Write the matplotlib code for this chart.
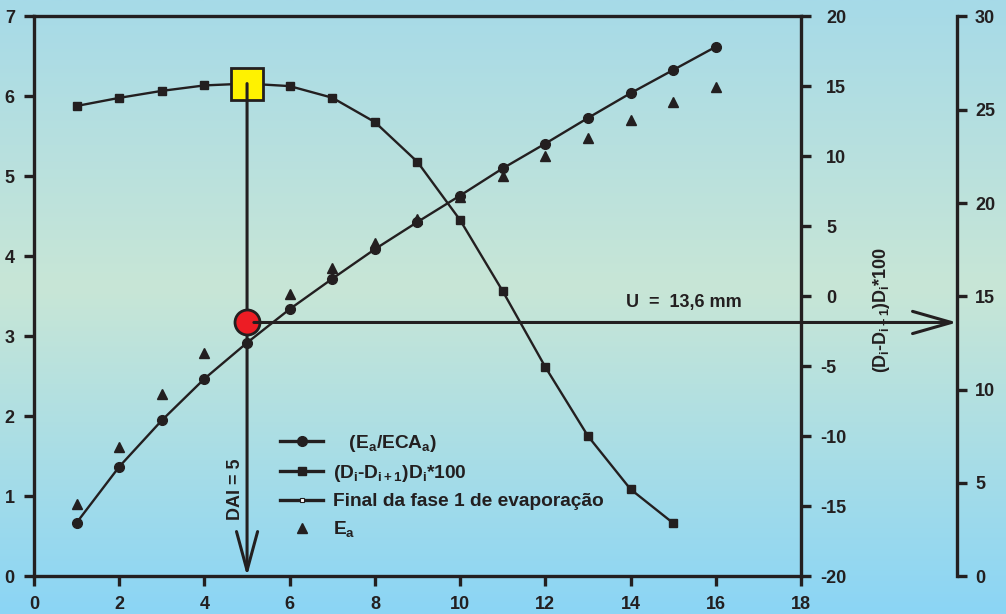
import matplotlib
matplotlib.use('Agg')
import matplotlib.pyplot as plt
import numpy as np
from matplotlib.colors import LinearSegmentedColormap
from matplotlib.lines import Line2D
from matplotlib.transforms import ScaledTranslation

plt.rcParams['font.family'] = ['Liberation Sans', 'DejaVu Sans']
plt.rcParams['font.weight'] = 'bold'
plt.rcParams['axes.unicode_minus'] = False
plt.rcParams['mathtext.fontset'] = 'custom'
plt.rcParams['mathtext.rm'] = 'Liberation Sans:bold'
plt.rcParams['mathtext.it'] = 'Liberation Sans:bold'
plt.rcParams['mathtext.bf'] = 'Liberation Sans:bold'

escuro = '#231f20'
plt.rcParams['text.color'] = escuro

# dados
dai = np.arange(1, 17)
ea_eca = [0.67, 1.37, 1.95, 2.47, 2.92, 3.34, 3.72, 4.09, 4.43, 4.76,
          5.10, 5.41, 5.73, 6.04, 6.33, 6.62]
dai_d = np.arange(1, 16)
d_var = [13.6, 14.18, 14.68, 15.07, 15.2, 15.02, 14.19, 12.45, 9.6, 5.45,
         0.37, -5.05, -9.98, -13.78, -16.2]
ea = [3.86, 6.92, 9.77, 11.96, 13.6, 15.1, 16.5, 17.85, 19.13, 20.35,
      21.44, 22.5, 23.5, 24.46, 25.4, 26.2]
dai_final = 5
u_final = 13.6

W, H = 1006, 614
fig = plt.figure(figsize=(W / 100, H / 100), dpi=100)

# fundo em degrade
bg = fig.add_axes([0, 0, 1, 1], zorder=-10)
cmap = LinearSegmentedColormap.from_list(
    'fundo', [(0, '#a6dae8'), (0.47, '#c8e6d6'), (1, '#8bd5f5')])
bg.imshow(np.linspace(0, 1, 256).reshape(-1, 1), aspect='auto', cmap=cmap,
          extent=[0, 1, 0, 1])
bg.axis('off')

left, right, top, bottom = 34, 801, 16.4, 576.3
ax = fig.add_axes([left / W, 1 - bottom / H, (right - left) / W, (bottom - top) / H])
ax.set_facecolor('none')
ax2 = ax.twinx()
ax3 = ax.twinx()
pos_eixo3 = (957 - left) / (right - left)

ax.spines['right'].set_visible(False)
for a in (ax2, ax3):
    for s in ('left', 'top', 'bottom'):
        a.spines[s].set_visible(False)
ax3.spines['right'].set_position(('axes', pos_eixo3))
for a in (ax, ax2, ax3):
    for s in a.spines.values():
        s.set_linewidth(2.4)
        s.set_color(escuro)

ax.set_xlim(0, 18)
ax.set_ylim(0, 7)
ax2.set_ylim(-20, 20)
ax3.set_ylim(0, 30)
ax.set_xticks(np.arange(0, 19, 2))
ax.set_yticks(np.arange(0, 8, 1))
ax2.set_yticks(np.arange(-20, 21, 5))
ax3.set_yticks(np.arange(0, 31, 5))

ax.tick_params(direction='out', length=7, width=2.4, color=escuro,
               labelsize=13, labelcolor=escuro)
ax.tick_params(axis='y', pad=6.8)
ax.tick_params(axis='x', pad=7)
ax2.tick_params(direction='out', length=7, width=2.4, color=escuro,
                labelsize=13, labelcolor=escuro, pad=11)
ax3.tick_params(direction='out', length=7, width=2.4, color=escuro,
                labelsize=13, labelcolor=escuro, pad=6)

# sinal de menos "pendurado" no eixo da direita
for t, v in zip(ax2.yaxis.get_major_ticks(), ax2.get_yticks()):
    if v < 0:
        t.label2.set_transform(t.label2.get_transform() +
                               ScaledTranslation(-6 / 100, 0, fig.dpi_scale_trans))

# series
ax.plot(dai, ea_eca, '-o', color=escuro, lw=1.7, ms=7)
ax2.plot(dai_d, d_var, '-s', color=escuro, lw=1.7, ms=6)
ax3.plot(dai, ea, '^', color=escuro, ms=7.5, ls='none')

# final da fase 1
ax2.plot(dai_final, d_var[dai_final - 1], 's', ms=23, mfc='#fff200',
         mec=escuro, mew=2, zorder=4)
ax2.annotate('', xy=(dai_final, -20), xytext=(dai_final, d_var[dai_final - 1]),
             arrowprops=dict(arrowstyle='->,head_length=28,head_width=7.6',
                             lw=2.2, color=escuro, shrinkA=0, shrinkB=0,
                             mutation_scale=1),
             annotation_clip=False, zorder=5)
ax3.plot(dai_final, u_final, 'o', ms=18, mfc='#ed1c24', mec=escuro, mew=2,
         zorder=3)
ax3.annotate('', xy=(pos_eixo3, u_final), xycoords=('axes fraction', 'data'),
             xytext=(dai_final + 0.16, u_final), textcoords='data',
             arrowprops=dict(arrowstyle='->,head_length=28,head_width=8',
                             lw=2.2, color=escuro, shrinkA=0, shrinkB=0,
                             mutation_scale=1),
             annotation_clip=False, zorder=5)

ax.text(4.72, 1.09, 'DAI = 5', rotation=90, ha='center', va='center', fontsize=13)
ax.text(13.9, 3.42, 'U  =  13,6 mm', ha='left', va='center', fontsize=13)
ax.text(1.1056, 0.4755, r'$(D_i$-$D_{i+1})D_i$*100', transform=ax.transAxes,
        rotation=90, ha='center', va='center', fontsize=13)

# legenda
handles = [Line2D([], [], color=escuro, lw=2.4, marker='o', ms=7),
           Line2D([], [], color=escuro, lw=2.4, marker='s', ms=6),
           Line2D([], [], color=escuro, lw=2.4, marker='s', ms=3.5,
                  mfc='white', mew=0.8),
           Line2D([], [], color=escuro, ls='none', marker='^', ms=7.5)]
labels = ['   $(E_a/ECA_a)$', '$(D_i$-$D_{i+1})D_i$*100',
          'Final da fase 1 de evaporação', '$E_a$']
ax3.legend(handles, labels, loc='upper left',
           bbox_to_anchor=((280 - left) / (right - left), (bottom - 433) / (bottom - top)),
           frameon=False, fontsize=13.8, handlelength=2.25, handletextpad=0.5,
           labelspacing=0.47, borderpad=0, borderaxespad=0)

fig.savefig('out.png', dpi=100)
